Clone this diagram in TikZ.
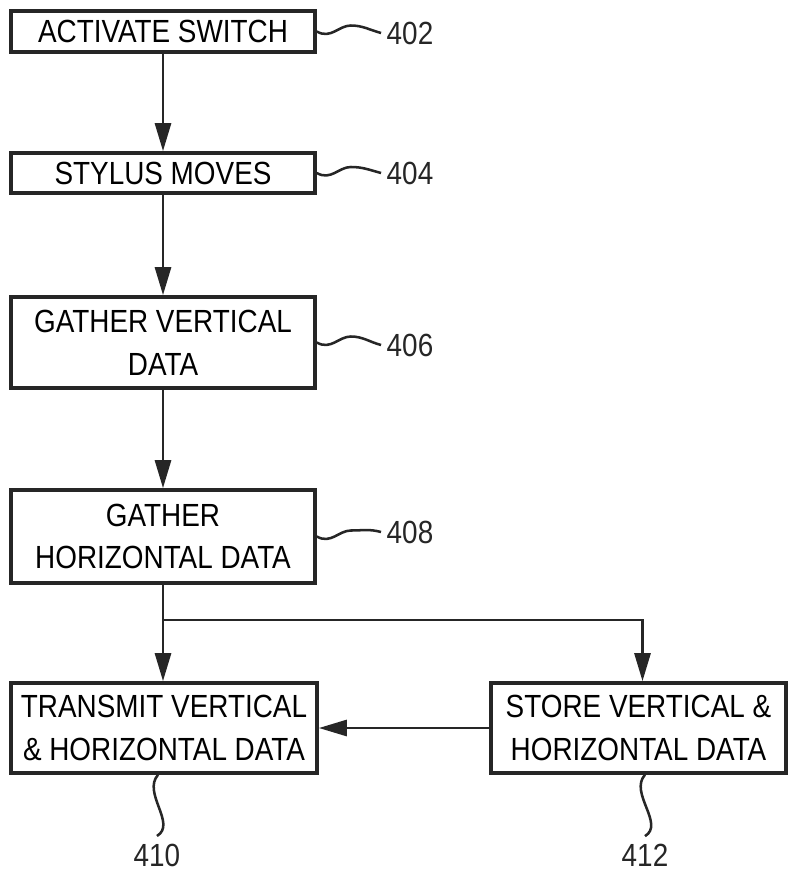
\documentclass[tikz,border=0pt]{standalone}
\usepackage{fontspec}
\newfontfamily\patfont[FakeStretch=0.87]{Liberation Sans}
\usepackage{tikz}
\usetikzlibrary{arrows.meta}
\definecolor{cink}{HTML}{262626}
\tikzset{
  >={Triangle[length=0.7cm,width=0.4cm]},
  stepbox/.style={draw=cink,line width=2.6pt,align=center,minimum width=7.6cm,
                  inner sep=0pt,font=\patfont\fontsize{22.8}{30.5}\selectfont},
  refno/.style={font=\patfont\fontsize{22.8}{27}\selectfont,text=cink,inner sep=1pt},
  flow/.style={->,draw=cink,line width=2pt},
  lead/.style={draw=cink,line width=1.8pt},
}

\begin{document}
\begin{tikzpicture}

\useasboundingbox (0,0) rectangle (19.675,-21.85);

% ================= LEFT COLUMN: steps =================
\node[stepbox,minimum height=1.025cm] (act) at (4.075,-0.7875) {ACTIVATE SWITCH};
\node[stepbox,minimum height=1.0cm] (sty) at (4.075,-4.325) {STYLUS MOVES};
\node[stepbox,minimum height=2.275cm] (vert) at (4.075,-8.5625) {GATHER VERTICAL\\DATA};
\node[stepbox,minimum height=2.325cm] (horz) at (4.075,-13.4125) {GATHER\\HORIZONTAL DATA};
\node[stepbox,minimum height=2.25cm,minimum width=7.65cm] (xmit) at (4.1,-18.2)
   {TRANSMIT VERTICAL\\\& HORIZONTAL DATA};

% ================= RIGHT: store =================
\node[stepbox,minimum height=2.25cm,minimum width=7.375cm] (store) at (15.9625,-18.2)
   {STORE VERTICAL \&\\HORIZONTAL DATA};

% ================= FLOW =================
\draw[flow] (act) -- (sty);
\draw[flow] (sty) -- (vert);
\draw[flow] (vert) -- (horz);
\coordinate (split) at (4.075,-15.5);
\draw[flow,-] (horz.south) -- (split);
\draw[flow] (split) -- (split |- xmit.north);
\draw[flow] (split) -| ([xshift=0.1cm]store.north);
\draw[flow] (store.west) -- (xmit.east);

% ================= REFERENCE NUMERALS =================
\node[refno] (n402) at (10.25,-0.825) {402};
\node[refno] (n404) at (10.25,-4.325) {404};
\node[refno] (n406) at (10.25,-8.625) {406};
\node[refno] (n408) at (10.25,-13.3) {408};
\node[refno] (n410) at (3.925,-21.375) {410};
\node[refno] (n412) at (16.125,-21.375) {412};

% leader lines (wavy)
\draw[lead] (act.east) .. controls +(0.35,-0.2) and +(-0.3,0) .. ++(0.85,0.15)
   .. controls +(0.3,0) and +(-0.3,0.08) .. ([xshift=-0.1cm]n402.west);
\draw[lead] (sty.east) .. controls +(0.35,-0.2) and +(-0.3,0) .. ++(0.85,0.15)
   .. controls +(0.3,0) and +(-0.3,0.08) .. ([xshift=-0.1cm]n404.west);
\draw[lead] (vert.east) .. controls +(0.35,-0.2) and +(-0.3,0) .. ++(0.85,0.15)
   .. controls +(0.3,0) and +(-0.3,0.08) .. ([xshift=-0.1cm]n406.west);
\draw[lead] (horz.east) .. controls +(0.35,-0.2) and +(-0.3,0) .. ++(0.85,0.15)
   .. controls +(0.3,0) and +(-0.3,0.08) .. ([xshift=-0.1cm]n408.west);
\draw[lead] ([xshift=-0.15cm]xmit.south) .. controls +(-0.4,-0.45) and +(0.5,0.3) .. ([yshift=0.15cm]n410.north);
\draw[lead] ([xshift=0.16cm]store.south) .. controls +(-0.4,-0.45) and +(0.5,0.3) .. ([yshift=0.15cm]n412.north);

\end{tikzpicture}
\end{document}
